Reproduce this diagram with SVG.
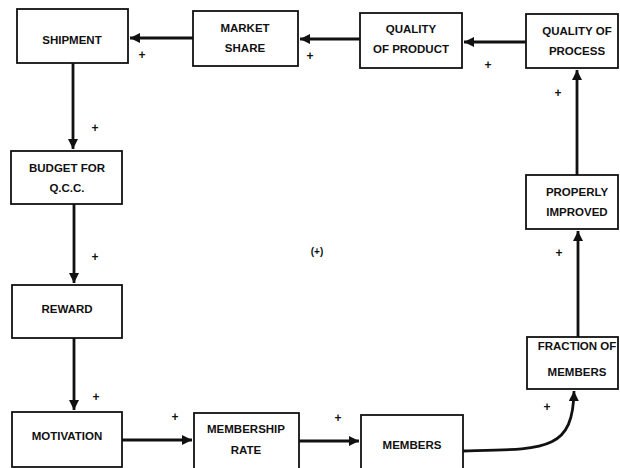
<svg xmlns="http://www.w3.org/2000/svg" width="620" height="468" viewBox="0 0 620 468">
<style>
.box{fill:#fff;stroke:#111;stroke-width:1.8}
.lbl{font-family:"Liberation Sans",Arial,sans-serif;font-weight:bold;font-size:11.5px;fill:#111;text-anchor:middle}
.pl{font-family:"Liberation Sans",Arial,sans-serif;font-weight:bold;font-size:12px;fill:#111;text-anchor:middle}
.c{fill:none;stroke:#111;stroke-width:2.8}
</style>
<defs>
<marker id="ah" markerUnits="userSpaceOnUse" markerWidth="12" markerHeight="10" refX="10" refY="5" orient="auto">
<path d="M0,0 L10,5 L0,10 Z" fill="#111"/>
</marker>
</defs>
<rect width="620" height="468" fill="#fff"/>
<g id="connectors">
<line class="c" x1="193" y1="38" x2="130" y2="38" marker-end="url(#ah)"/>
<line class="c" x1="360" y1="39" x2="300" y2="39" marker-end="url(#ah)"/>
<line class="c" x1="526" y1="42" x2="464" y2="42" marker-end="url(#ah)"/>
<line class="c" x1="577" y1="175" x2="577" y2="70" marker-end="url(#ah)"/>
<line class="c" x1="578" y1="337" x2="578" y2="231" marker-end="url(#ah)"/>
<path class="c" d="M463,451 C545,449 573,452 574,391" marker-end="url(#ah)"/>
<line class="c" x1="299" y1="441" x2="359" y2="441" marker-end="url(#ah)"/>
<line class="c" x1="122" y1="440" x2="192" y2="440" marker-end="url(#ah)"/>
<line class="c" x1="74" y1="338" x2="74" y2="410" marker-end="url(#ah)"/>
<line class="c" x1="74" y1="204" x2="74" y2="283" marker-end="url(#ah)"/>
<line class="c" x1="73" y1="63" x2="73" y2="149" marker-end="url(#ah)"/>
</g>
<g id="shipment"><rect class="box" x="17" y="9" width="111" height="54"/><text class="lbl" x="72" y="44">SHIPMENT</text></g>
<g id="market-share"><rect class="box" x="193" y="11" width="105" height="55"/><text class="lbl" x="245" y="32">MARKET</text><text class="lbl" x="245" y="52">SHARE</text></g>
<g id="quality-product"><rect class="box" x="360" y="13" width="102" height="55"/><text class="lbl" x="411" y="33">QUALITY</text><text class="lbl" x="411" y="53">OF PRODUCT</text></g>
<g id="quality-process"><rect class="box" x="526" y="14" width="92" height="54"/><text class="lbl" x="577" y="35">QUALITY OF</text><text class="lbl" x="577" y="55">PROCESS</text></g>
<g id="properly-improved"><rect class="box" x="526" y="175" width="92" height="54"/><text class="lbl" x="577" y="196">PROPERLY</text><text class="lbl" x="577" y="216">IMPROVED</text></g>
<g id="fraction-members"><rect class="box" x="527" y="337" width="91" height="52"/><text class="lbl" x="577" y="350">FRACTION OF</text><text class="lbl" x="577" y="376">MEMBERS</text></g>
<g id="members"><rect class="box" x="361" y="415" width="102" height="56"/><text class="lbl" x="412" y="449">MEMBERS</text></g>
<g id="membership-rate"><rect class="box" x="194" y="413" width="105" height="58"/><text class="lbl" x="246" y="433">MEMBERSHIP</text><text class="lbl" x="246" y="454">RATE</text></g>
<g id="motivation"><rect class="box" x="12" y="412" width="110" height="55"/><text class="lbl" x="67" y="440">MOTIVATION</text></g>
<g id="reward"><rect class="box" x="12" y="285" width="110" height="53"/><text class="lbl" x="67" y="313">REWARD</text></g>
<g id="budget"><rect class="box" x="11" y="151" width="111" height="53"/><text class="lbl" x="67" y="172">BUDGET FOR</text><text class="lbl" x="67" y="192">Q.C.C.</text></g>
<g id="signs">
<text class="pl" x="142" y="59">+</text>
<text class="pl" x="310" y="60">+</text>
<text class="pl" x="488" y="69">+</text>
<text class="pl" x="558" y="97">+</text>
<text class="pl" x="559" y="257">+</text>
<text class="pl" x="547" y="411">+</text>
<text class="pl" x="338" y="422">+</text>
<text class="pl" x="175" y="421">+</text>
<text class="pl" x="96" y="401">+</text>
<text class="pl" x="95" y="261">+</text>
<text class="pl" x="95" y="132">+</text>
<text class="pl" x="317" y="255" style="font-size:10px">(+)</text>
</g>
</svg>
